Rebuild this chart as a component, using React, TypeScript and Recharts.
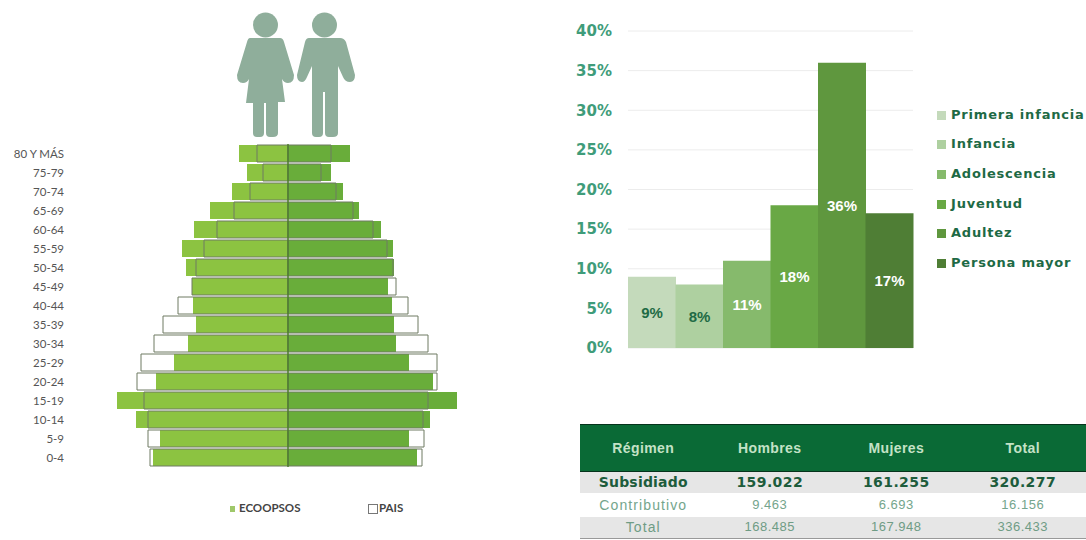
import {
  Bar,
  BarChart,
  CartesianGrid,
  Cell,
  LabelList,
  ReferenceLine,
  XAxis,
  YAxis,
} from "recharts";

const ageGroups = [
  "80 Y MÁS", "75-79", "70-74", "65-69", "60-64", "55-59", "50-54", "45-49", "40-44",
  "35-39", "30-34", "25-29", "20-24", "15-19", "10-14", "5-9", "0-4",
];
const ecoWomen = [2.45, 2.05, 2.8, 3.9, 4.7, 5.3, 5.1, 4.8, 4.75, 4.6, 5.0, 5.7, 6.6, 8.55, 7.6, 6.4, 6.75];
const ecoMen = [3.1, 2.15, 2.75, 3.55, 4.65, 5.25, 5.3, 5.0, 5.2, 5.3, 5.4, 6.05, 7.25, 8.45, 7.1, 6.05, 6.45];
const paisWomen = [1.55, 1.25, 1.9, 2.7, 3.55, 4.2, 4.6, 4.8, 5.5, 6.25, 6.7, 7.35, 7.55, 7.2, 7.0, 7.0, 6.9];
const paisMen = [2.15, 1.65, 2.4, 3.25, 4.25, 4.95, 5.25, 5.4, 6.0, 6.5, 7.0, 7.45, 7.45, 7.0, 6.75, 6.8, 6.7];

const lifeStages = ["Primera infancia", "Infancia", "Adolescencia", "Juventud", "Adultez", "Persona mayor"];
const stageShares = [9, 8, 11, 18, 36, 17];
const stageColors = ["#c4dabb", "#aed0a0", "#86ba6c", "#69a845", "#5f973e", "#4f7e35"];
const stageLabelColors = ["#1f6b45", "#1f6b45", "#ffffff", "#ffffff", "#ffffff", "#ffffff"];
const shareTicks = [0, 5, 10, 15, 20, 25, 30, 35, 40];

const tableHeader = ["Régimen", "Hombres", "Mujeres", "Total"];
const tableRows = [
  ["Subsidiado", "159.022", "161.255", "320.277"],
  ["Contributivo", "9.463", "6.693", "16.156"],
  ["Total", "168.485", "167.948", "336.433"],
];

const pyramidData = ageGroups.map((age, i) => ({
  age,
  ecoWomen: -ecoWomen[i],
  ecoMen: ecoMen[i],
  paisWomen: -paisWomen[i],
  paisMen: paisMen[i],
}));

const stageData = lifeStages.map((stage, i) => ({ stage, share: stageShares[i] }));

const narrowFont = "Lato, 'Open Sans', sans-serif";
const wideFont = "'DejaVu Sans', sans-serif";
const tableFont = "'Liberation Sans', Arial, sans-serif";

function People() {
  const color = "#8fae9b";
  return (
    <svg
      width={130}
      height={130}
      viewBox="230 10 130 130"
      style={{ position: "absolute", left: 230, top: 10 }}
    >
      <g fill={color}>
        <circle cx={265.5} cy={25} r={12.5} />
        <path d="M250 38 H280 Q283 38 284 42 L294 75 Q294 83 288 83 Q284 83 282 79 L285 102 H278 V133 Q278 137 273 137 H270 Q266 137 266 133 V103 H264 V133 Q264 137 260 137 H257 Q253 137 253 133 V103 H246 L249 79 Q247 83 243 83 Q237 83 237 75 L247 42 Q248 38 250 38 Z" />
        <circle cx={324.5} cy={25} r={12.5} />
        <path d="M309 38 H340 Q344 38 346 42 L355 75 Q355 82 350 82 Q345 82 343 77 L338 66 V133 Q338 137 333 137 H329 Q325 137 325 133 V92 H323 V133 Q323 137 319 137 H316 Q312 137 312 133 V66 L307 77 Q305 82 302 82 Q297 82 297 75 L305 42 Q306 38 309 38 Z" />
      </g>
    </svg>
  );
}

// the default tick wraps "80 Y MÁS" inside the axis width
function AgeTick(props: any) {
  const { x, y, payload } = props;
  return (
    <text
      x={x}
      y={y}
      textAnchor="end"
      dominantBaseline="central"
      fontSize={11.5}
      fontFamily={narrowFont}
      fill="#555555"
    >
      {payload.value}
    </text>
  );
}

function Pyramid() {
  return (
    <div style={{ position: "absolute", left: 0, top: 130 }}>
      <BarChart
        width={560}
        height={350}
        data={pyramidData}
        layout="vertical"
        stackOffset="sign"
        barSize={17}
        barGap={-17}
        margin={{ top: 14, right: 52, bottom: 13, left: 0 }}
      >
        <XAxis type="number" domain={[-11, 11]} hide />
        <YAxis
          type="category"
          dataKey="age"
          width={68}
          axisLine={false}
          tickLine={false}
          tickSize={0}
          tickMargin={4}
          interval={0}
          tick={AgeTick}
        />
        <Bar dataKey="ecoWomen" stackId="eco" fill="#8cc341" isAnimationActive={false} />
        <Bar dataKey="ecoMen" stackId="eco" fill="#69ad3a" isAnimationActive={false} />
        <Bar dataKey="paisWomen" stackId="pais" fill="none" stroke="#6f7a63" strokeWidth={1} isAnimationActive={false} />
        <Bar dataKey="paisMen" stackId="pais" fill="none" stroke="#6f7a63" strokeWidth={1} isAnimationActive={false} />
        <ReferenceLine x={0} stroke="#4f7f2c" strokeWidth={1.5} />
      </BarChart>
    </div>
  );
}

function PyramidLegend() {
  const text = {
    position: "absolute" as const,
    top: 501,
    fontFamily: narrowFont,
    fontSize: 11.5,
    fontWeight: 700,
    color: "#444444",
    lineHeight: "14px",
  };
  return (
    <>
      <div style={{ position: "absolute", left: 230, top: 506, width: 5, height: 6, background: "#9fc86a" }} />
      <div style={{ ...text, left: 239 }}>ECOOPSOS</div>
      <div style={{ position: "absolute", left: 368, top: 504, width: 8, height: 8, border: "1px solid #777777" }} />
      <div style={{ ...text, left: 379 }}>PAIS</div>
    </>
  );
}

function ShareLabel(props: any) {
  const { x, y, width, height, value, index } = props;
  return (
    <text
      x={x + width / 2}
      y={y + height / 2}
      textAnchor="middle"
      dominantBaseline="central"
      fontFamily={tableFont}
      fontSize={15}
      fontWeight={700}
      fill={stageLabelColors[index]}
    >
      {value}%
    </text>
  );
}

function StageChart() {
  return (
    <div style={{ position: "absolute", left: 560, top: 20 }}>
      <BarChart
        width={360}
        height={340}
        data={stageData}
        barCategoryGap={0}
        margin={{ top: 11, right: 7, bottom: 12, left: 0 }}
      >
        <CartesianGrid vertical={false} stroke="#ececec" />
        <XAxis dataKey="stage" hide />
        <YAxis
          domain={[0, 40]}
          ticks={shareTicks}
          width={68}
          axisLine={false}
          tickLine={false}
          tickSize={0}
          tickMargin={16}
          tickFormatter={(v) => `${v}%`}
          tick={{ fontSize: 15, fontFamily: wideFont, fontWeight: 700, fill: "#3f9c7a" }}
        />
        <Bar dataKey="share" isAnimationActive={false}>
          {stageData.map((d, i) => (
            <Cell key={d.stage} fill={stageColors[i]} />
          ))}
          <LabelList dataKey="share" content={ShareLabel} />
        </Bar>
      </BarChart>
    </div>
  );
}

function StageLegend() {
  const rowTops = [115, 144, 174, 204, 233, 263];
  return (
    <>
      {lifeStages.map((stage, i) => (
        <div key={stage}>
          <div
            style={{
              position: "absolute",
              left: 937,
              top: rowTops[i] - 4,
              width: 9,
              height: 9,
              background: stageColors[i],
            }}
          />
          <div
            style={{
              position: "absolute",
              left: 951,
              top: rowTops[i] - 9,
              fontFamily: wideFont,
              fontSize: 13,
              letterSpacing: 0.8,
              fontWeight: 700,
              lineHeight: "18px",
              color: "#1e6a45",
              whiteSpace: "nowrap",
            }}
          >
            {stage}
          </div>
        </div>
      ))}
    </>
  );
}

function RegimeTable() {
  const rowStyles = [
    { background: "#e6e6e6", color: "#1d5c3c", fontWeight: 700, height: 21, fontFamily: wideFont },
    { background: "#ffffff", color: "#74a58c", fontWeight: 400, height: 24, fontFamily: tableFont },
    { background: "#e6e6e6", color: "#6f9c85", fontWeight: 400, height: 22, fontFamily: tableFont },
  ];
  // first column runs larger than the figures
  const cellFont = (r: number, c: number) => {
    if (r === 0) return c === 0 ? { fontSize: 14, letterSpacing: 0.2 } : { fontSize: 14, letterSpacing: 0.4 };
    return c === 0 ? { fontSize: 14, letterSpacing: 1.1 } : { fontSize: 13, letterSpacing: 0.5 };
  };
  return (
    <table
      style={{
        position: "absolute",
        left: 580,
        top: 424,
        width: 506,
        borderCollapse: "collapse",
        tableLayout: "fixed",
        textAlign: "center",
        borderBottom: "1px solid #999999",
      }}
    >
      <thead>
        <tr style={{ height: 47, background: "#0a6a36", borderTop: "1px solid #06331c", borderBottom: "1px solid #06331c" }}>
          {tableHeader.map((h) => (
            <th
              key={h}
              style={{ padding: 0, fontFamily: tableFont, fontSize: 14, letterSpacing: 0.4, fontWeight: 700, color: "#c4e2c6" }}
            >
              {h}
            </th>
          ))}
        </tr>
      </thead>
      <tbody>
        {tableRows.map((row, r) => (
          <tr key={row[0]} style={rowStyles[r]}>
            {row.map((cell, c) => (
              <td key={c} style={{ padding: 0, lineHeight: "16px", ...cellFont(r, c) }}>
                {cell}
              </td>
            ))}
          </tr>
        ))}
      </tbody>
    </table>
  );
}

export default function App() {
  return (
    <div style={{ position: "absolute", left: 0, top: 0, width: 1086, height: 540, background: "#ffffff", overflow: "hidden" }}>
      <People />
      <Pyramid />
      <PyramidLegend />
      <StageChart />
      <StageLegend />
      <RegimeTable />
    </div>
  );
}
